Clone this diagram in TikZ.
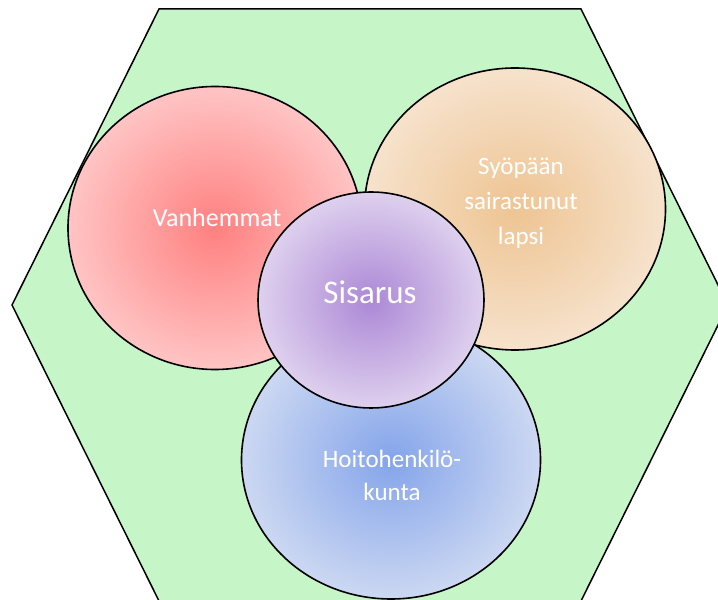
\documentclass[tikz,border=0pt]{standalone}
\usepackage{fontspec}
\setmainfont{Carlito}
\usetikzlibrary{shapes.geometric}
\definecolor{hexfill}{RGB}{198,245,200}
\definecolor{redin}{RGB}{255,128,128}
\definecolor{redout}{RGB}{255,196,196}
\definecolor{peachin}{RGB}{238,196,146}
\definecolor{peachout}{RGB}{246,226,204}
\definecolor{purpin}{RGB}{172,136,214}
\definecolor{purpout}{RGB}{222,208,238}
\definecolor{bluein}{RGB}{132,164,234}
\definecolor{blueout}{RGB}{204,216,242}
\tikzset{
  bubble/.style={ellipse, draw=black, line width=1.6pt, inner sep=0pt,
    text=white, align=center, font=\fontsize{25}{35}\selectfont},
}
\begin{document}
\begin{tikzpicture}[x=1pt,y=1pt]
  \useasboundingbox (0,0) rectangle (718,600);
  \clip (0,0) rectangle (718,600);
  % hexagonal background
  \draw[fill=hexfill, line width=1.5pt]
    (159,591) -- (581,591) -- (728,295) -- (581,-1) -- (159,-1) -- (12,295) -- cycle;
  % surrounding circles
  \node[bubble, minimum width=294pt, minimum height=283pt,
        inner color=redin, outer color=redout] (parents) at (215,372) {};
  \node[bubble, minimum width=301pt, minimum height=282pt,
        inner color=peachin, outer color=peachout] (child) at (515,391) {};
  \node[bubble, minimum width=299pt, minimum height=278pt,
        inner color=bluein, outer color=blueout] (staff) at (391,140) {};
  \node[bubble, minimum width=226pt, minimum height=216pt,
        inner color=purpin, outer color=purpout] (sibling) at (371,300) {};
  % labels
  \node[text=white, font=\fontsize{26}{35}\selectfont] (lblparents) at (217,382) {Vanhemmat};
  \node[text=white, align=center, font=\fontsize{25}{35}\selectfont] (lblchild) at (521,397) {Syöpään\\sairastunut\\lapsi};
  \node[text=white, align=center, font=\fontsize{25}{33}\selectfont] (lblstaff) at (392,125) {Hoitohenkilö-\\kunta};
  \node[text=white, font=\fontsize{33}{40}\selectfont] (lblsibling) at (370,308) {Sisarus};
\end{tikzpicture}
\end{document}
